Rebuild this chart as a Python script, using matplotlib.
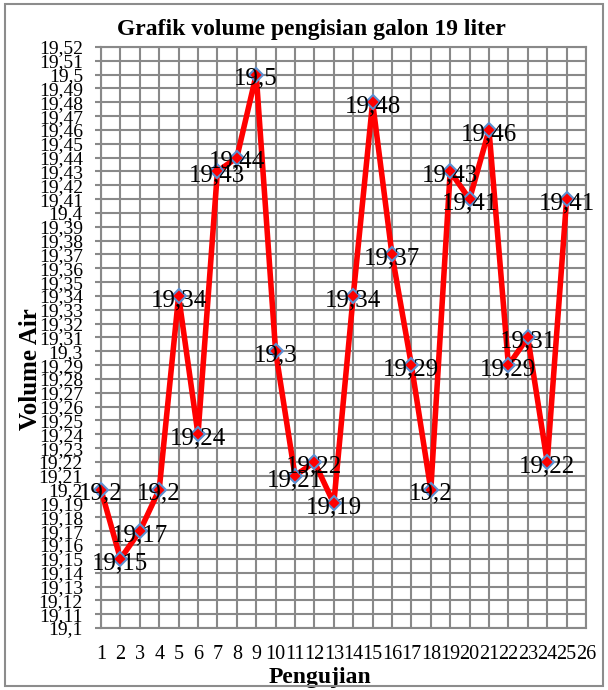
import matplotlib
matplotlib.use("Agg")
import matplotlib.pyplot as plt
from matplotlib.patches import Rectangle
import numpy as np

pengujian = list(range(1, 26))
volume = [19.20, 19.15, 19.17, 19.20, 19.34, 19.24, 19.43, 19.44, 19.50, 19.30,
          19.21, 19.22, 19.19, 19.34, 19.48, 19.37, 19.29, 19.20, 19.43, 19.41,
          19.46, 19.29, 19.31, 19.22, 19.41]
x_ticks = list(range(1, 27))
y_ticks = [round(19.10 + 0.01 * i, 2) for i in range(43)]

def fmt(v):
    s = ("%.2f" % v).rstrip("0").rstrip(".")
    return s.replace(".", ",")

plt.rcParams['font.family'] = ['Liberation Serif', 'DejaVu Serif']

fig = plt.figure(figsize=(6.08, 6.90), dpi=100)
ax = fig.add_axes([101/608, 1 - 628/690, 485/608, 581/690])

grid_c = '#898989'
ax.set_xlim(1, 26)
ax.set_ylim(19.10, 19.52)
ax.set_xticks(x_ticks)
ax.set_xticklabels([str(t) for t in x_ticks], fontsize=14.5)
ax.set_yticks(y_ticks)
ax.set_yticklabels([fmt(t) for t in y_ticks], fontsize=14)
ax.grid(True, color=grid_c, linewidth=1.5)
ax.set_axisbelow(True)
for sp in ax.spines.values():
    sp.set_color(grid_c)
    sp.set_linewidth(1.5)
ax.tick_params(axis='y', length=4, width=1.5, color=grid_c, pad=9)
ax.tick_params(axis='x', length=0, pad=12)

ax.plot(pengujian, volume, color='#ff0000', linewidth=4, marker='D',
        markersize=7.5, markerfacecolor='#ff0000', markeredgecolor='#5b8fd0',
        markeredgewidth=1.5, clip_on=False, zorder=3)
for xv, yv in zip(pengujian, volume):
    ax.annotate(fmt(yv), (xv, yv), xytext=(0, -3), textcoords='offset points',
                ha='center', va='center', fontsize=18, color='black',
                zorder=4, annotation_clip=False)

ax.set_xlabel('Pengujian', fontsize=17, fontweight='bold')
ax.xaxis.set_label_coords((320 - 101) / 485, (628 - 667) / 581)
ax.set_ylabel('Volume Air', fontsize=18, fontweight='bold')
ax.yaxis.set_label_coords((42 - 101) / 485, (628 - 369) / 581)

fig.text(311/608, 1 - 30/690, 'Grafik volume pengisian galon 19 liter',
         ha='center', va='center', fontsize=17, fontweight='bold')

fig.patches.append(Rectangle((5/608, 4/690), 598/608, 682/690,
                             transform=fig.transFigure, fill=False,
                             edgecolor='#8c8c8c', linewidth=1.5))

fig.savefig('out.png', dpi=100)
